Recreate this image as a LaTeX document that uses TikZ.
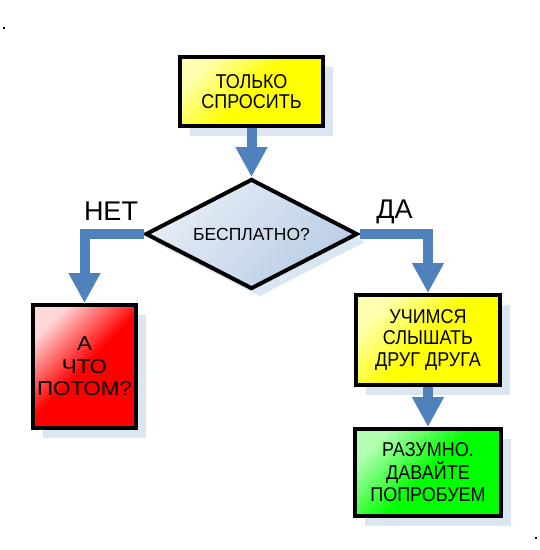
\documentclass[tikz,border=0pt]{standalone}
\usepackage{fontspec}
\setmainfont{Liberation Sans}
\newfontfamily\widefont[FakeStretch=1.12]{Liberation Sans}
\newfontfamily\boxfont[FakeStretch=0.9]{Liberation Sans}
\usetikzlibrary{arrows.meta,positioning,shapes.geometric,shadows}
\definecolor{flowblue}{HTML}{4F81BD}
\definecolor{shadowblue}{HTML}{DCE6F2}
\definecolor{askblue}{HTML}{B9CDE5}

\begin{document}
\begin{tikzpicture}[x=1pt,y=-1pt,
  box/.style={draw=black,line width=4pt,align=center,inner sep=0pt,
    font=\boxfont\fontsize{20}{21.5}\selectfont,
    drop shadow={shadow xshift=10pt,shadow yshift=-10pt,fill=shadowblue,opacity=1}},
  flow/.style={draw=flowblue,line width=10pt,-{Triangle[width=30pt,length=30pt]}},
  tag/.style={font=\fontsize{27}{30}\selectfont,anchor=base}]
 \useasboundingbox (0,0) rectangle (540,550);
 % boxes
 \node[box,minimum width=143,minimum height=69,font=\boxfont\fontsize{20}{20}\selectfont,
   top color=yellow!30!white,bottom color=yellow,middle color=yellow,shading angle=45]
   (ask) at (251.5,91.5) {ТОЛЬКО\\СПРОСИТЬ};
 \node[draw=black,line width=4pt,diamond,aspect=2,inner sep=0pt,minimum width=212,minimum height=110,
   font=\fontsize{17.5}{20}\selectfont,
   top color=askblue!35!white,bottom color=askblue,shading angle=45,
   drop shadow={shadow xshift=8pt,shadow yshift=-8pt,fill=shadowblue,opacity=1}]
   (free) at (251.5,234) {БЕСПЛАТНО?};
 \node[box,minimum width=103,minimum height=123,font=\widefont\fontsize{20}{22.5}\selectfont,
   top color=red!15!white,bottom color=red,middle color=red,shading angle=45]
   (what) at (84.5,366.5) {А\\ЧТО\\ПОТОМ?};
 \node[box,minimum width=144,minimum height=90,
   top color=yellow!30!white,bottom color=yellow,middle color=yellow,shading angle=45]
   (learn) at (428,340) {УЧИМСЯ\\СЛЫШАТЬ\\ДРУГ ДРУГА};
 \node[box,minimum width=146,minimum height=87,font=\boxfont\fontsize{20}{22.5}\selectfont,
   top color=green!30!white,bottom color=green,middle color=green,shading angle=45]
   (try) at (428,472.5) {РАЗУМНО.\\ДАВАЙТЕ\\ПОПРОБУЕМ};
 % labels
 \node[tag] (no) at (111,220) {НЕТ};
 \node[tag] (yes) at (394.5,218) {ДА};
 % connectors
 \draw[flow] (ask.south) -- (free.north);
 \draw[flow] (free.west) -| (what.north);
 \draw[flow] (free.east) -| (learn.north);
 \draw[flow] (learn.south) -- (try.north);
 % dots
 \fill (3,27) rectangle (5,29);
 \fill (535,537) rectangle (537,539);
\end{tikzpicture}
\end{document}
